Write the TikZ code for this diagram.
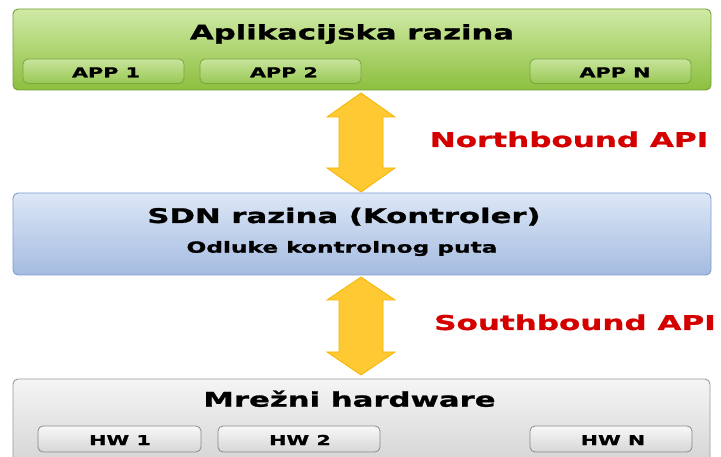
\documentclass[tikz,border=0pt]{standalone}
\usepackage{fontspec}
\newfontfamily\wfont[FakeStretch=1.52,FakeBold=1.2]{DejaVu Sans}
\definecolor{gtop}{HTML}{D0EAA6}
\definecolor{gbot}{HTML}{8CBF3E}
\definecolor{gline}{HTML}{72A032}
\definecolor{atop}{HTML}{C8E49C}
\definecolor{abot}{HTML}{98C854}
\definecolor{aline}{HTML}{7AA63C}
\definecolor{btop}{HTML}{DDE7F6}
\definecolor{bbot}{HTML}{A4BBE0}
\definecolor{bline}{HTML}{7E9DD0}
\definecolor{ktop}{HTML}{F5F5F5}
\definecolor{kbot}{HTML}{CFCFCF}
\definecolor{kline}{HTML}{9A9A9A}
\definecolor{htop}{HTML}{F8F8F8}
\definecolor{hbot}{HTML}{D6D6D6}
\definecolor{hline}{HTML}{8A8A8A}
\definecolor{apired}{HTML}{D40000}
\definecolor{arrfill}{HTML}{FFC933}
\definecolor{arrline}{HTML}{F5B400}
\tikzset{
  layer/.style={rounded corners=5pt, line width=0.9pt},
  sub/.style={rounded corners=5pt, line width=0.8pt},
  big/.style={font=\wfont\bfseries\fontsize{20.2}{24}\selectfont, anchor=base, inner sep=0pt},
  mid/.style={font=\wfont\bfseries\fontsize{15.3}{18}\selectfont, anchor=base, inner sep=0pt},
  small/.style={font=\wfont\bfseries\fontsize{13.6}{16}\selectfont, anchor=base, inner sep=0pt},
  api/.style={font=\wfont\bfseries\fontsize{20.4}{24}\selectfont, anchor=base, inner sep=0pt, text=apired},
  fatarrow/.style={fill=arrfill, draw=arrline, line width=0.8pt, line join=miter}
}
\begin{document}
\begin{tikzpicture}[x=1pt,y=-1pt]
\useasboundingbox (0,0) rectangle (721,457);
\clip (0,0) rectangle (721,457);
% application layer
\draw[layer, draw=gline, top color=gtop, bottom color=gbot] (13,9) rectangle (711,90);
\node[big] (apptitle) at (352,39.5) {Aplikacijska razina};
\draw[sub, draw=aline, top color=atop, bottom color=abot] (23,59) rectangle (184,83.5);
\draw[sub, draw=aline, top color=atop, bottom color=abot] (200,59) rectangle (361,83.5);
\draw[sub, draw=aline, top color=atop, bottom color=abot] (530,59) rectangle (691,83.5);
\node[small] (app1) at (106,77.3) {APP 1};
\node[small] (app2) at (284,77.3) {APP 2};
\node[small] (appn) at (615,77.3) {APP N};
% northbound arrow
\draw[fatarrow] (361,93) -- (395,117) -- (383,117) -- (383,168) -- (395,168) -- (361,192)
  -- (327,168) -- (339,168) -- (339,117) -- (327,117) -- cycle;
\node[api] (nb) at (569,147) {Northbound API};
% SDN layer
\draw[layer, draw=bline, top color=btop, bottom color=bbot] (13,193) rectangle (711,275);
\node[big] (sdntitle) at (344,223) {SDN razina (Kontroler)};
\node[mid] (sdnsub) at (342,252.7) {Odluke kontrolnog puta};
% southbound arrow
\draw[fatarrow] (361,277) -- (395,300) -- (383,300) -- (383,352) -- (395,352) -- (361,375)
  -- (327,352) -- (339,352) -- (339,300) -- (327,300) -- cycle;
\node[api] (sb) at (575,330) {Southbound API};
% hardware layer
\draw[layer, draw=kline, top color=ktop, bottom color=kbot] (13,379) rectangle (710,480);
\node[big] (hwtitle) at (349.5,406.7) {Mrežni hardware};
\draw[sub, draw=hline, top color=htop, bottom color=hbot] (38,426) rectangle (201,452);
\draw[sub, draw=hline, top color=htop, bottom color=hbot] (218,426) rectangle (380,452);
\draw[sub, draw=hline, top color=htop, bottom color=hbot] (530,426) rectangle (692,452);
\node[small] (hw1) at (120,445) {HW 1};
\node[small] (hw2) at (300,445) {HW 2};
\node[small] (hwn) at (613,445) {HW N};
\end{tikzpicture}
\end{document}
